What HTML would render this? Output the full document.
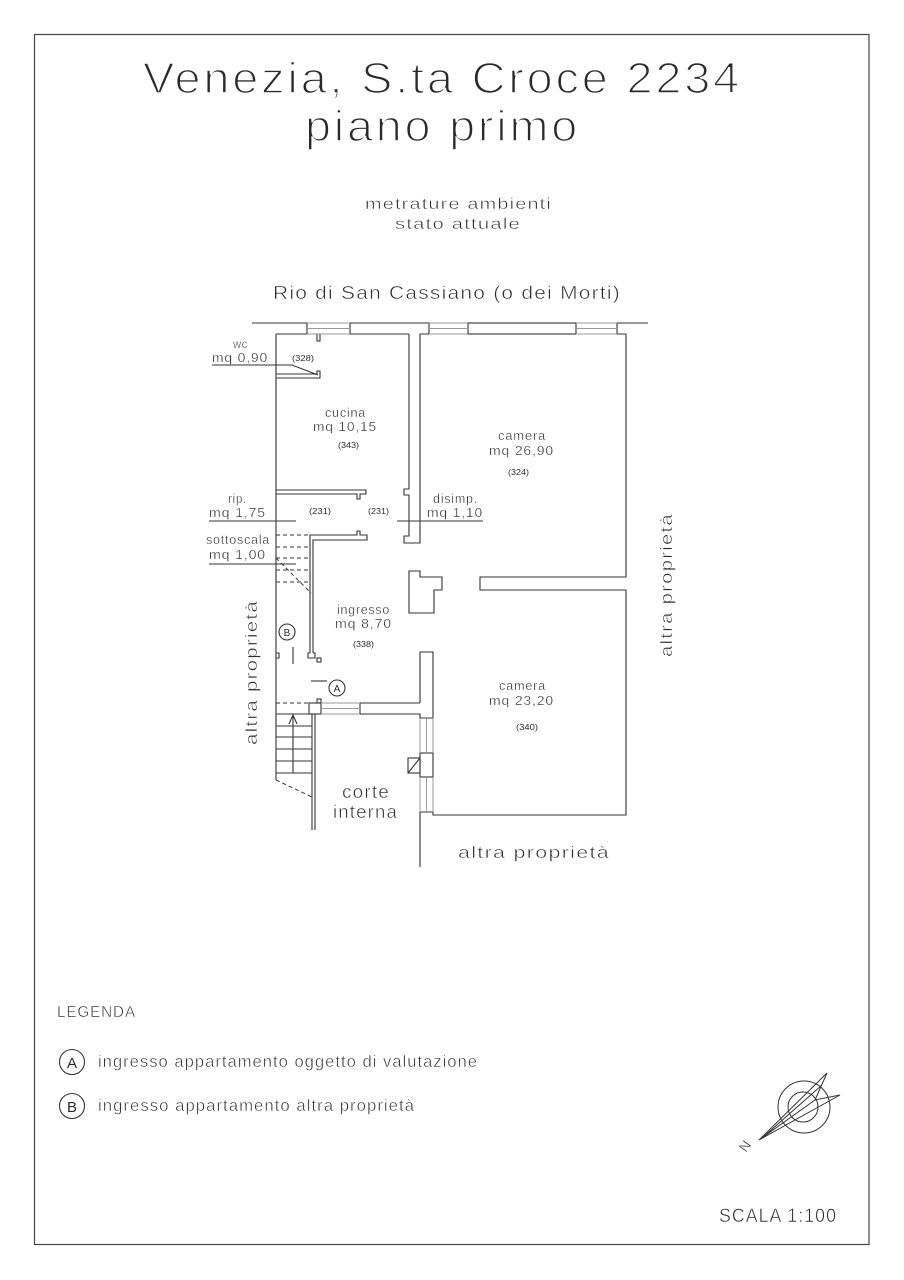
<!DOCTYPE html>
<html><head><meta charset="utf-8"><style>
html,body{margin:0;padding:0;background:#fff;}
svg{display:block;}
text{font-family:"Liberation Sans",sans-serif;fill:#2a2a2a;stroke:#fff;letter-spacing:0.06em;}
.t1{stroke-width:1.6;}
.t2{stroke-width:0.5;}
.t3{stroke-width:0.3;}
.t4{stroke-width:0;letter-spacing:0;}
</style></head><body>
<svg width="904" height="1280" viewBox="0 0 904 1280" xmlns="http://www.w3.org/2000/svg">
<rect x="0" y="0" width="904" height="1280" fill="#fff"/>
<rect x="34.5" y="34.5" width="834.5" height="1210" fill="none" stroke="#444" stroke-width="1.2"/>

<!-- titles -->
<text class="t1" x="143" y="93" font-size="44" textLength="599" lengthAdjust="spacingAndGlyphs">Venezia, S.ta Croce 2234</text>
<text class="t1" x="305" y="141" font-size="44" textLength="275" lengthAdjust="spacingAndGlyphs">piano primo</text>
<text class="t2" x="365" y="209" font-size="16" textLength="187" lengthAdjust="spacingAndGlyphs">metrature ambienti</text>
<text class="t2" x="395" y="229" font-size="16" textLength="126" lengthAdjust="spacingAndGlyphs">stato attuale</text>
<text class="t2" x="273" y="299" font-size="18" textLength="348" lengthAdjust="spacingAndGlyphs">Rio di San Cassiano (o dei Morti)</text>

<g fill="none" stroke="#333" stroke-width="1.1">
<!-- top wall -->
<path d="M252,323 H307 V334 H276"/>
<path d="M350,323 H429 V323"/>
<path d="M350,323 V334 H409"/>
<path d="M409,334 V489 H404 V495 H409 V536 H404 V543 H420 V334 H429 V323"/>
<rect x="468" y="323" width="108" height="11"/>
<path d="M648,323 H617 V334 H626 V577 H480 V590 H626 V815 H433 V812 H420 V867"/>
<rect x="317" y="334" width="3" height="7"/>
<!-- left long wall -->
<path d="M276,334 V780"/>
<path d="M276,653 H279 V658 H276"/>
<!-- wc wall -->
<path d="M276,374 H317 V371 H320 V378 H276"/>
<!-- cucina bottom wall -->
<path d="M276,490 H366 V494 H360 V499 H357 V494 H276"/>
<!-- sottoscala / ingresso wall -->
<path d="M310,653 V535 H357 V531 H360 V535 H367 V540 H313 V653"/>
<path d="M310,653 H308 V658 H315 V653 H313"/>
<rect x="317" y="658" width="4" height="4"/>
<!-- pillar -->
<path d="M409,571 H420 V577 H442 V590 H434 V613 H409 Z"/>
<!-- lower camera left wall -->
<path d="M420,703 V652 H433 V718"/>
<path d="M420,703 H360 V714 H420 V718 H433"/>
<rect x="420" y="753" width="13" height="24"/>
<rect x="408" y="758" width="12" height="15"/>
<path d="M408,773 L420,758"/>
<!-- entrance post -->
<rect x="309" y="703" width="12" height="11"/>
<rect x="317" y="699" width="4" height="4"/>
<!-- stairs -->
<path d="M276,714 H312 M276,726 H312 M276,737 H312 M276,749 H312 M276,761 H312 M276,773 H312"/>
<path d="M312,714 V830 M315,714 V830"/>
<path d="M293,773 V715 M289,724 L293,715 L297,724"/>
<!-- leaders -->
<path d="M212,365 H292 L318,375"/>
<path d="M209,521 H296"/>
<path d="M397,521 H483"/>
<path d="M209,564 H296"/>
<!-- markers -->
<path d="M293,647 V664"/>
<path d="M311,681 H327"/>
<circle cx="287" cy="632" r="8"/>
<circle cx="337" cy="688" r="8"/>
</g>

<!-- dashed -->
<g fill="none" stroke="#333" stroke-width="1" stroke-dasharray="4,3">
<path d="M276,535 H310 M276,547 H310 M276,558 H310 M276,570 H310 M276,582 H310"/>
<path d="M276,558 L311,593"/>
<path d="M276,703 H309"/>
<path d="M276,780 L312,797"/>
</g>

<!-- windows (grey) -->
<g fill="none" stroke="#9a9a9a" stroke-width="1">
<path d="M307,323 H350 M307,328.5 H350 M307,334 H350"/>
<path d="M429,323 H468 M429,328.5 H468 M429,334 H468"/>
<path d="M576,323 H617 M576,328.5 H617 M576,334 H617"/>
<path d="M321,703 H360 M321,708.5 H360 M321,714 H360"/>
<path d="M420,718 V753 M426.5,718 V753 M433,718 V753"/>
<path d="M420,777 V812 M426.5,777 V812 M433,777 V812"/>
</g>

<!-- room labels -->
<text class="t3" x="233" y="348" font-size="12" textLength="15" lengthAdjust="spacingAndGlyphs">wc</text>
<text class="t3" x="212" y="362" font-size="13" textLength="56" lengthAdjust="spacingAndGlyphs">mq 0,90</text>
<text class="t4" x="292" y="361" font-size="8" textLength="22" lengthAdjust="spacingAndGlyphs">(328)</text>
<text class="t3" x="325" y="417" font-size="13" textLength="41" lengthAdjust="spacingAndGlyphs">cucina</text>
<text class="t3" x="313" y="431" font-size="13" textLength="64" lengthAdjust="spacingAndGlyphs">mq 10,15</text>
<text class="t4" x="338" y="448" font-size="8" textLength="21" lengthAdjust="spacingAndGlyphs">(343)</text>
<text class="t3" x="498" y="440" font-size="13" textLength="48" lengthAdjust="spacingAndGlyphs">camera</text>
<text class="t3" x="489" y="455" font-size="13" textLength="65" lengthAdjust="spacingAndGlyphs">mq 26,90</text>
<text class="t4" x="508" y="475" font-size="8" textLength="21" lengthAdjust="spacingAndGlyphs">(324)</text>
<text class="t3" x="228" y="503" font-size="13" textLength="19" lengthAdjust="spacingAndGlyphs">rip.</text>
<text class="t3" x="209" y="517" font-size="13" textLength="57" lengthAdjust="spacingAndGlyphs">mq 1,75</text>
<text class="t4" x="309" y="514" font-size="8" textLength="22" lengthAdjust="spacingAndGlyphs">(231)</text>
<text class="t4" x="368" y="514" font-size="8" textLength="21" lengthAdjust="spacingAndGlyphs">(231)</text>
<text class="t3" x="433" y="503" font-size="13" textLength="45" lengthAdjust="spacingAndGlyphs">disimp.</text>
<text class="t3" x="427" y="517" font-size="13" textLength="56" lengthAdjust="spacingAndGlyphs">mq 1,10</text>
<text class="t3" x="206" y="544" font-size="13" textLength="64" lengthAdjust="spacingAndGlyphs">sottoscala</text>
<text class="t3" x="209" y="559" font-size="13" textLength="57" lengthAdjust="spacingAndGlyphs">mq 1,00</text>
<text class="t3" x="337" y="614" font-size="13" textLength="53" lengthAdjust="spacingAndGlyphs">ingresso</text>
<text class="t3" x="335" y="628" font-size="13" textLength="57" lengthAdjust="spacingAndGlyphs">mq 8,70</text>
<text class="t4" x="353" y="647" font-size="8" textLength="21" lengthAdjust="spacingAndGlyphs">(338)</text>
<text class="t3" x="499" y="690" font-size="13" textLength="47" lengthAdjust="spacingAndGlyphs">camera</text>
<text class="t3" x="489" y="705" font-size="13" textLength="65" lengthAdjust="spacingAndGlyphs">mq 23,20</text>
<text class="t4" x="516" y="730" font-size="8" textLength="22" lengthAdjust="spacingAndGlyphs">(340)</text>
<text class="t2" x="342" y="798" font-size="18" textLength="48" lengthAdjust="spacingAndGlyphs">corte</text>
<text class="t2" x="333" y="818" font-size="18" textLength="65" lengthAdjust="spacingAndGlyphs">interna</text>
<text class="t2" x="458" y="858" font-size="17" textLength="152" lengthAdjust="spacingAndGlyphs">altra proprietà</text>
<text class="t2" x="0" y="0" font-size="17" textLength="144" lengthAdjust="spacingAndGlyphs" transform="translate(672,657) rotate(-90)">altra proprietà</text>
<text class="t2" x="0" y="0" font-size="17" textLength="145" lengthAdjust="spacingAndGlyphs" transform="translate(257,745) rotate(-90)">altra proprietà</text>
<text class="t4" x="287" y="636" font-size="10" text-anchor="middle">B</text>
<text class="t4" x="337" y="692" font-size="10" text-anchor="middle">A</text>

<!-- legend -->
<text class="t2" x="57" y="1017" font-size="16" textLength="79" lengthAdjust="spacingAndGlyphs">LEGENDA</text>
<circle cx="72" cy="1062" r="12.5" fill="none" stroke="#333" stroke-width="1.1"/>
<text class="t4" x="72" y="1068" font-size="15" text-anchor="middle">A</text>
<text class="t2" x="98" y="1067" font-size="17" textLength="380" lengthAdjust="spacingAndGlyphs">ingresso appartamento oggetto di valutazione</text>
<circle cx="72" cy="1106" r="12.5" fill="none" stroke="#333" stroke-width="1.1"/>
<text class="t4" x="72" y="1112" font-size="15" text-anchor="middle">B</text>
<text class="t2" x="98" y="1111" font-size="17" textLength="317" lengthAdjust="spacingAndGlyphs">ingresso appartamento altra proprietà</text>

<!-- compass -->
<g fill="none" stroke="#333" stroke-width="1">
<circle cx="804" cy="1107" r="26"/>
<circle cx="803" cy="1107" r="15"/>
<path d="M759,1140 L827,1073 L815,1100 L840,1095 Z"/>
<path d="M759,1140 L815,1100 M762,1138 L822,1085"/>
</g>
<text class="t3" x="0" y="0" font-size="14" transform="translate(746,1153) rotate(-55)">N</text>

<text class="t2" x="719" y="1222" font-size="19" textLength="118" lengthAdjust="spacingAndGlyphs">SCALA 1:100</text>
</svg>
</body></html>
